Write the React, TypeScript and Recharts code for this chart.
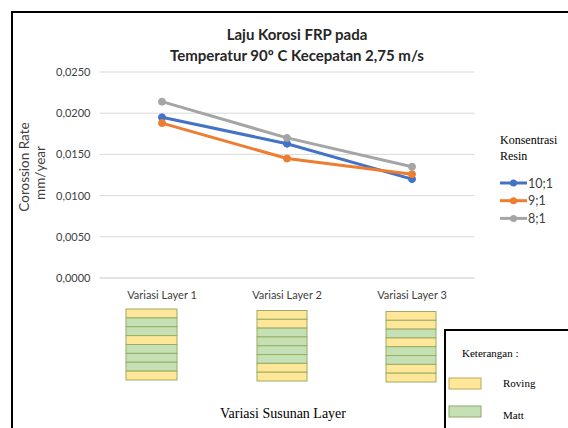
import React from 'react';
import { LineChart, Line, XAxis, YAxis, CartesianGrid } from 'recharts';

// ---- data ----
const categories = ['Variasi Layer 1', 'Variasi Layer 2', 'Variasi Layer 3'];
const resin10 = [0.0195, 0.0163, 0.0120];
const resin9 = [0.0188, 0.0145, 0.0126];
const resin8 = [0.0214, 0.0170, 0.0135];
const yTicks = [0, 0.005, 0.01, 0.015, 0.02, 0.025];

const seriesList = [
  { key: 'r10', name: '10;1', color: '#4472C4' },
  { key: 'r9', name: '9;1', color: '#ED7D31' },
  { key: 'r8', name: '8;1', color: '#A5A5A5' },
];

// R = roving, M = matt (top to bottom)
const stack1 = ['R', 'M', 'M', 'R', 'M', 'M', 'M', 'R'];
const stack2 = ['R', 'R', 'M', 'M', 'M', 'M', 'R', 'R'];
const stack3 = ['R', 'R', 'M', 'R', 'M', 'M', 'R', 'R'];

const data = categories.map((c, i) => ({
  layer: c,
  r10: resin10[i],
  r9: resin9[i],
  r8: resin8[i],
}));

const SANS = 'Lato, "Open Sans", sans-serif';
const SERIF = '"Liberation Serif", "DejaVu Serif", serif';
const ROVING = '#FFE699';
const MATT = '#C5E0B4';
const STRIPE_STROKE = '#98AE62';

const fmt = (v: number) => v.toFixed(4).replace('.', ',');

function Stack({ x, y, w, h, layers }: { x: number; y: number; w: number; h: number; layers: string[] }) {
  const sh = h / layers.length;
  return (
    <g>
      {layers.map((l, i) => (
        <rect
          key={i}
          x={x}
          y={y + i * sh}
          width={w}
          height={sh}
          fill={l === 'R' ? ROVING : MATT}
          stroke={STRIPE_STROKE}
          strokeWidth={1}
        />
      ))}
    </g>
  );
}

export default function App() {
  return (
    <div style={{ position: 'relative', width: 568, height: 428, background: '#fff', overflow: 'hidden' }}>
      <style>{'body{margin:0}'}</style>
      <LineChart
        width={568}
        height={428}
        data={data}
        margin={{ top: 72, right: 93.5, left: 0, bottom: 120 }}
      >
        <CartesianGrid vertical={false} stroke="#D9D9D9" />
        <XAxis
          dataKey="layer"
          padding={{ left: 62.5, right: 62.5 }}
          height={30}
          axisLine={{ stroke: '#D9D9D9' }}
          tickLine={false}
          tickSize={0}
          tickMargin={13}
          tick={{ fill: '#404040', fontSize: 11, fontFamily: SANS }}
        />
        <YAxis
          width={99.5}
          domain={[0, 0.025]}
          ticks={yTicks}
          tickFormatter={fmt}
          axisLine={false}
          tickLine={false}
          tickSize={0}
          tickMargin={9}
          tick={{ fill: '#404040', fontSize: 11, fontFamily: SANS }}
        />
        {seriesList.map((s) => (
          <Line
            key={s.key}
            dataKey={s.key}
            name={s.name}
            stroke={s.color}
            strokeWidth={3}
            dot={{ r: 3.5, fill: s.color, stroke: s.color, strokeWidth: 1 }}
            isAnimationActive={false}
          />
        ))}
      </LineChart>

      <svg
        width={568}
        height={428}
        style={{ position: 'absolute', left: 0, top: 0, pointerEvents: 'none' }}
      >
        {/* outer frame */}
        <rect x={12} y={12} width={700} height={600} fill="none" stroke="#000" strokeWidth={2} />

        {/* title */}
        <text x={297} y={34} textAnchor="middle" dominantBaseline="central"
          fontFamily={SANS} fontWeight={700} fontSize={15} fill="#262626">
          Laju Korosi FRP pada
        </text>
        <text x={297} y={55} textAnchor="middle" dominantBaseline="central"
          fontFamily={SANS} fontWeight={700} fontSize={15} fill="#262626">
          Temperatur 90º C Kecepatan 2,75 m/s
        </text>

        {/* y axis title */}
        <text transform="translate(24,167) rotate(-90)" textAnchor="middle" dominantBaseline="central"
          fontFamily={SANS} fontSize={13.5} fill="#404040">
          Corossion Rate
        </text>
        <text transform="translate(40,173) rotate(-90)" textAnchor="middle" dominantBaseline="central"
          fontFamily={SANS} fontSize={13.5} fill="#404040">
          mm/year
        </text>

        {/* legend */}
        <text x={500} y={140} dominantBaseline="central" fontFamily={SERIF} fontSize={12} fill="#000">
          Konsentrasi
        </text>
        <text x={500} y={156} dominantBaseline="central" fontFamily={SERIF} fontSize={12} fill="#000">
          Resin
        </text>
        {seriesList.map((s, i) => {
          const y = 183 + i * 17.7;
          return (
            <g key={s.key}>
              <line x1={500} x2={527} y1={y} y2={y} stroke={s.color} strokeWidth={3} />
              <circle cx={513.5} cy={y} r={3.5} fill={s.color} />
              <text x={528} y={y} dominantBaseline="central" fontFamily={SANS} fontSize={12.5} fill="#404040">
                {s.name}
              </text>
            </g>
          );
        })}

        {/* layer stacks */}
        <Stack x={126} y={309} w={51} h={71} layers={stack1} />
        <Stack x={257} y={310.5} w={50} h={70.5} layers={stack2} />
        <Stack x={386} y={311.5} w={50} h={70.5} layers={stack3} />

        <text x={283} y={413} textAnchor="middle" dominantBaseline="central"
          fontFamily={SERIF} fontSize={14} fill="#000">
          Variasi Susunan Layer
        </text>

        {/* keterangan box */}
        <rect x={445} y={330} width={200} height={200} fill="#fff" stroke="#000" strokeWidth={2} />
        <text x={462} y={353} dominantBaseline="central" fontFamily={SERIF} fontSize={11} fill="#000">
          Keterangan :
        </text>
        <rect x={449} y={378} width={32} height={11} fill={ROVING} stroke="#B8A95A" strokeWidth={1} />
        <text x={503} y={383} dominantBaseline="central" fontFamily={SERIF} fontSize={11} fill="#000">
          Roving
        </text>
        <rect x={449} y={406} width={32} height={11} fill={MATT} stroke="#8EAA66" strokeWidth={1} />
        <text x={503} y={415} dominantBaseline="central" fontFamily={SERIF} fontSize={11} fill="#000">
          Matt
        </text>
      </svg>
    </div>
  );
}
